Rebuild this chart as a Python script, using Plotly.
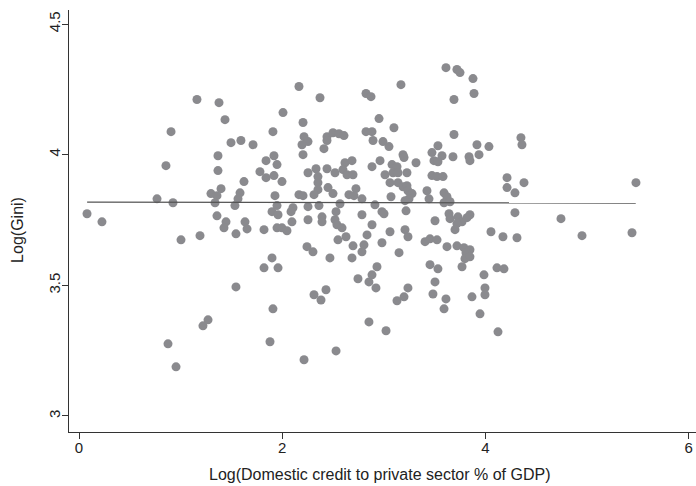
import plotly.graph_objects as go

log_credit = [
    1.161, 1.378, 1.437, 0.906, 1.368, 0.856, 1.368, 1.398, 1.299, 1.358,
    1.339, 0.768, 0.925, 0.079, 0.226, 1.358, 1.447, 1.427, 1.004, 1.191,
    1.270, 1.220, 0.876, 0.955,
    2.165, 2.372, 2.825, 2.008, 2.205, 1.909, 1.496, 1.594, 1.713, 2.215,
    2.254, 2.195, 2.441, 2.500, 2.559, 2.608, 2.411, 2.441, 2.825, 1.919,
    2.205, 1.841, 1.949, 2.618, 2.687,
    3.612, 3.720, 3.750, 3.878, 3.169, 2.874, 3.691, 3.888, 2.953, 3.100,
    2.884, 2.894, 2.992, 3.051, 3.691, 3.533, 3.917, 4.035, 3.189, 3.199,
    2.963, 3.081, 3.317, 3.474, 3.573, 3.494, 3.681, 3.839, 3.848, 3.937,
    4.350, 4.360,
    1.781, 1.841, 1.919, 1.998, 1.624, 2.254, 2.333, 2.441, 2.520, 2.598,
    2.638, 2.697, 2.352, 2.352, 2.352, 2.451, 2.500, 1.929, 1.585, 1.565,
    1.535, 2.165, 2.205, 2.313, 2.362, 2.254, 1.949, 1.900, 2.106, 2.087,
    1.959, 2.569, 2.530, 2.657, 2.726, 2.707, 2.785, 2.785, 1.634, 1.654,
    1.545, 1.821, 1.949, 1.998, 2.047, 2.096, 2.254, 2.392, 2.392, 2.520,
    2.539, 2.589, 2.628, 2.549, 2.835, 2.697, 2.785, 2.805, 2.244, 2.303,
    2.470, 2.687, 1.900, 1.821, 1.959,
    2.884, 3.012, 3.130, 3.091, 3.140, 3.228, 3.533, 3.474, 3.524, 3.583,
    3.061, 3.140, 3.189, 3.228, 3.238, 3.278, 3.248, 3.209, 3.071, 3.425,
    3.445, 3.593, 3.622, 3.593, 3.652, 4.213, 4.213, 4.291, 2.913, 2.982,
    3.002, 3.219, 3.642, 3.652, 3.730, 3.770, 3.848, 3.819, 3.720, 3.701,
    3.504, 2.884, 3.061, 3.209, 3.238, 3.406, 3.455, 3.524, 3.622, 3.720,
    3.789, 3.848, 3.809, 3.799, 3.848, 4.055, 4.173, 4.291, 4.311, 2.982,
    3.150, 2.933, 3.455, 3.533, 3.770, 4.114, 4.183,
    4.380, 5.482, 4.744, 4.951, 5.443,
    1.545, 2.746, 2.854, 2.313, 2.431, 2.382, 1.909, 2.854, 1.880, 2.530,
    2.215,
    2.884, 2.923, 3.504, 3.484, 3.612, 3.593, 3.947, 3.238, 3.199, 3.130,
    3.022, 4.124, 3.986, 3.996, 3.996, 3.868,
]

log_gini = [
    4.211, 4.199, 4.134, 4.088, 3.996, 3.958, 3.939, 3.870, 3.851, 3.843,
    3.816, 3.831, 3.816, 3.774, 3.743, 3.766, 3.743, 3.720, 3.674, 3.690,
    3.368, 3.345, 3.276, 3.188,
    4.261, 4.218, 4.234, 4.161, 4.123, 4.088, 4.046, 4.054, 4.038, 4.069,
    4.050, 4.038, 4.069, 4.084, 4.080, 4.073, 4.023, 4.054, 4.088, 3.996,
    4.000, 3.977, 3.962, 3.969, 3.977,
    4.333, 4.326, 4.314, 4.291, 4.268, 4.222, 4.211, 4.234, 4.138, 4.103,
    4.088, 4.054, 4.050, 4.031, 4.077, 4.034, 4.038, 4.031, 4.000, 3.989,
    3.977, 3.962, 3.969, 4.008, 3.996, 3.977, 3.992, 3.992, 3.977, 4.000,
    4.065, 4.038,
    3.935, 3.912, 3.920, 3.897, 3.897, 3.931, 3.946, 3.946, 3.931, 3.943,
    3.923, 3.923, 3.916, 3.893, 3.866, 3.874, 3.851, 3.843, 3.854, 3.831,
    3.805, 3.847, 3.843, 3.847, 3.805, 3.801, 3.805, 3.782, 3.797, 3.782,
    3.770, 3.812, 3.782, 3.847, 3.870, 3.843, 3.831, 3.770, 3.743, 3.716,
    3.697, 3.713, 3.720, 3.720, 3.709, 3.743, 3.751, 3.762, 3.743, 3.751,
    3.732, 3.720, 3.686, 3.674, 3.693, 3.651, 3.628, 3.655, 3.648, 3.628,
    3.605, 3.605, 3.605, 3.567, 3.567,
    3.954, 3.923, 3.954, 3.931, 3.931, 3.931, 3.973, 3.920, 3.916, 3.916,
    3.893, 3.893, 3.877, 3.881, 3.862, 3.851, 3.831, 3.824, 3.839, 3.862,
    3.831, 3.854, 3.839, 3.816, 3.820, 3.912, 3.874, 3.854, 3.808, 3.782,
    3.774, 3.785, 3.774, 3.755, 3.762, 3.743, 3.770, 3.759, 3.736, 3.713,
    3.747, 3.732, 3.705, 3.713, 3.686, 3.667, 3.678, 3.674, 3.648, 3.651,
    3.644, 3.636, 3.625, 3.602, 3.609, 3.705, 3.686, 3.778, 3.682, 3.663,
    3.625, 3.571, 3.579, 3.563, 3.571, 3.567, 3.563,
    3.893, 3.893, 3.755, 3.690, 3.701,
    3.494, 3.525, 3.513, 3.464, 3.483, 3.444, 3.410, 3.360, 3.284, 3.249,
    3.215,
    3.540, 3.490, 3.513, 3.467, 3.448, 3.410, 3.391, 3.490, 3.456, 3.441,
    3.326, 3.322, 3.540, 3.490, 3.464, 3.456,
]

fit_x = [0.08, 5.48]
fit_y = [3.818, 3.815]

x_ticks = [0, 2, 4, 6]
x_tick_labels = ["0", "2", "4", "6"]
y_ticks = [3, 3.5, 4, 4.5]
y_tick_labels = ["3", "3.5", "4", "4.5"]

x_title = "Log(Domestic credit to private sector % of GDP)"
y_title = "Log(Gini)"

fig = go.Figure()
fig.add_trace(go.Scatter(
    x=log_credit, y=log_gini, mode="markers",
    marker=dict(size=9, color="#8a8a8e", line=dict(width=0)),
    showlegend=False, hoverinfo="x+y",
))
fig.add_trace(go.Scatter(
    x=fit_x, y=fit_y, mode="lines",
    line=dict(color="#555555", width=1.3),
    showlegend=False, hoverinfo="skip",
))

font_family = "Liberation Sans, Arial, sans-serif"
fig.update_layout(
    width=696, height=486,
    margin=dict(l=69, r=0, t=10, b=54),
    paper_bgcolor="white", plot_bgcolor="white",
    font=dict(family=font_family, size=15, color="#222222"),
    xaxis=dict(
        range=[-0.0984, 6.073],
        tickvals=x_ticks, ticktext=x_tick_labels,
        showgrid=False, zeroline=False,
        showline=True, linecolor="#333333", linewidth=1,
        ticks="outside", ticklen=6, tickcolor="#333333",
        tickfont=dict(size=15),
        ticklabelstandoff=-4,
    ),
    yaxis=dict(
        range=[2.9387, 4.5536],
        tickvals=y_ticks, ticktext=y_tick_labels,
        showgrid=False, zeroline=False,
        showline=True, linecolor="#333333", linewidth=1,
        ticks="outside", ticklen=6, tickcolor="#333333",
        tickangle=-90,
        tickfont=dict(size=15),
        ticklabelstandoff=-4,
    ),
    annotations=[
        dict(text=x_title, xref="paper", yref="paper",
             x=0.496, y=-0.1, xanchor="center", yanchor="middle",
             showarrow=False, font=dict(size=16)),
        dict(text=y_title, xref="paper", yref="paper",
             x=-0.0813, y=0.479, xanchor="center", yanchor="middle",
             textangle=-90, showarrow=False, font=dict(size=16)),
    ],
)

fig.write_html("out.html", post_script="document.body.style.margin='0';",
               config={"displayModeBar": False})
